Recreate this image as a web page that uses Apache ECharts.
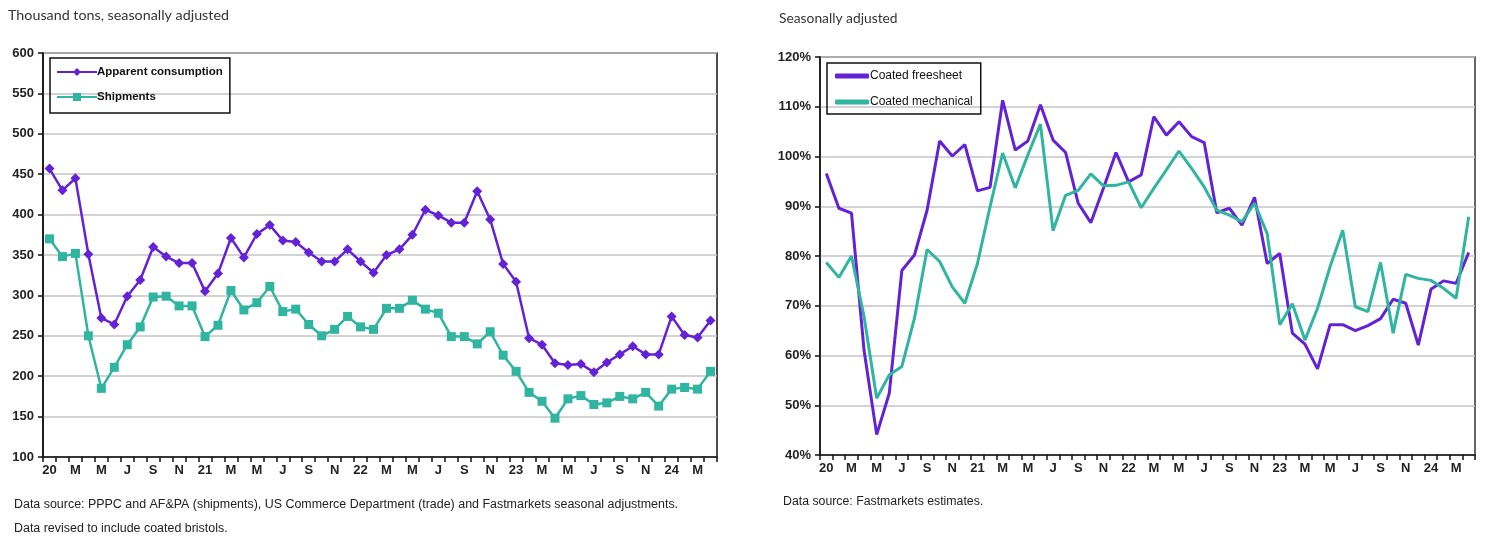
<!DOCTYPE html>
<html>
<head>
<meta charset="utf-8">
<script src="https://cdn.jsdelivr.net/npm/echarts@6/dist/echarts.min.js"></script>
<style>
html,body{margin:0;padding:0;background:#fff;}
#c{width:1491px;height:544px;}
</style>
</head>
<body>
<div id="c"></div>
<script>
// Monthly categories Jan 2020 – Apr 2024
const months = ["20","F","M","A","M","J","J","A","S","O","N","D",
  "21","F","M","A","M","J","J","A","S","O","N","D",
  "22","F","M","A","M","J","J","A","S","O","N","D",
  "23","F","M","A","M","J","J","A","S","O","N","D",
  "24","F","M","A"];

// Left chart: thousand tons
const apparentConsumption = [457,430,445,351,272,264,299,319,360,348,340,340,
  305,327,371,347,376,387,368,366,353,342,342,357,
  342,328,350,357,375,406,399,390,390,429,394,339,
  317,247,239,216,214,215,205,217,227,237,227,227,
  274,251,248,269];
const shipments = [370,348,352,250,185,211,239,261,298,299,287,287,
  249,263,306,282,291,311,280,283,264,250,258,274,
  261,258,284,284,294,283,278,249,249,240,255,226,
  206,180,169,148,172,176,165,167,175,172,180,163,
  184,186,184,206];

// Right chart: percent
const coatedFreesheet = [96.6,89.6,88.6,61,44.1,52.4,77.1,80.2,89.2,103.1,100.1,102.4,
  93.1,93.8,111.3,101.3,103.1,110.4,103.3,100.8,90.6,86.7,93.6,100.8,
  94.9,96.3,108,104.3,107,104,102.8,88.7,89.6,86.2,91.8,78.5,
  80.5,64.5,62.3,57.3,66.2,66.2,65,66,67.4,71.3,70.5,62.1,
  73.3,75,74.5,80.7];
const coatedMechanical = [78.7,75.7,80,67.8,51.4,56.1,57.8,67.5,81.3,78.9,73.8,70.5,
  78.5,89.9,100.7,93.7,100.3,106.5,85.1,92.2,93.2,96.5,94.1,94.2,
  94.9,89.7,93.6,97.3,101.1,97.6,93.9,89.2,88.2,86.9,90.6,84.5,
  66.2,70.4,63.1,69.5,77.9,85.2,69.8,68.8,78.7,64.5,76.3,75.5,
  75.1,73.5,71.5,87.9];

const purple = '#6422d6';
const teal = '#2fb5a0';
const labelFont = "'Liberation Sans',Arial,sans-serif";

const chart = echarts.init(document.getElementById('c'), null, {renderer:'canvas'});

function xAxisCfg(gridIndex){
  return {
    type:'category', gridIndex, data: months, boundaryGap:true,
    axisLine:{show:true, lineStyle:{color:'#111', width:1.5}},
    axisTick:{show:true, interval:0, alignWithLabel:false, length:5, lineStyle:{color:'#111', width:1.5}},
    axisLabel:{interval:1, color:'#222', fontFamily:labelFont, fontWeight:'bold', fontSize:13, margin:7},
    splitLine:{show:false}
  };
}

const noteStyle = {fontFamily:labelFont, fontWeight:'normal', fontSize:12.45, color:'#222'};
const subStyle = {fontFamily:'Lato, sans-serif', fontWeight:'normal', fontSize:14.3, color:'#333'};

chart.setOption({
  animation:false,
  title:[
    {text:'Thousand tons, seasonally adjusted', left:8, top:8, padding:0, textStyle:subStyle},
    {text:'Seasonally adjusted', left:779, top:12, padding:0, textStyle:Object.assign({}, subStyle, {fontSize:13.8})},
    {text:'Data source: PPPC and AF&PA (shipments), US Commerce Department (trade) and Fastmarkets seasonal adjustments.', left:14, top:499, padding:0, textStyle:noteStyle},
    {text:'Data revised to include coated bristols.', left:14, top:523, padding:0, textStyle:noteStyle},
    {text:'Data source: Fastmarkets estimates.', left:783, top:496, padding:0, textStyle:Object.assign({}, noteStyle, {fontSize:12.3})}
  ],
  legend:[
    {data:['Apparent consumption','Shipments'], orient:'vertical', left:50, top:58,
      borderColor:'#111', borderWidth:1.5, padding:[8,7,10,6], itemGap:13,
      itemWidth:40, itemHeight:10,
      textStyle:{fontFamily:labelFont, fontWeight:'bold', fontSize:11.5, color:'#111', padding:[0,0,0,-5]}},
    {data:['Coated freesheet','Coated mechanical'], orient:'vertical', left:827, top:63,
      borderColor:'#111', borderWidth:1.5, padding:[7,8,6,8], itemGap:14,
      itemWidth:34, itemHeight:5, icon:'roundRect',
      textStyle:{fontFamily:labelFont, fontWeight:'normal', fontSize:12, color:'#111', padding:[0,0,0,-4]}}
  ],
  grid:[
    {left:43, top:53, width:674, height:404, show:true, borderColor:'#111', borderWidth:1.5, containLabel:false},
    {left:820, top:57, width:655, height:398, show:true, borderColor:'#333', borderWidth:1.5, containLabel:false}
  ],
  xAxis:[xAxisCfg(0), xAxisCfg(1)],
  yAxis:[
    {type:'value', gridIndex:0, min:100, max:600, interval:50,
      axisLine:{show:true, lineStyle:{color:'#111', width:1.5}},
      axisTick:{show:true, length:5, lineStyle:{color:'#111', width:1.5}},
      axisLabel:{color:'#222', fontFamily:labelFont, fontWeight:'bold', fontSize:13, margin:9},
      splitLine:{show:true, lineStyle:{color:'#c4c4c4', width:1.5}}},
    {type:'value', gridIndex:1, min:40, max:120, interval:10,
      axisLine:{show:true, lineStyle:{color:'#111', width:1.5}},
      axisTick:{show:true, length:5, lineStyle:{color:'#111', width:1.5}},
      axisLabel:{color:'#222', fontFamily:labelFont, fontWeight:'bold', fontSize:13, margin:9, formatter:'{value}%'},
      splitLine:{show:true, lineStyle:{color:'#c4c4c4', width:1.5}}}
  ],
  series:[
    {name:'Apparent consumption', type:'line', xAxisIndex:0, yAxisIndex:0, data:apparentConsumption,
      symbol:'diamond', symbolSize:10, showSymbol:true, showAllSymbol:true,
      lineStyle:{color:purple, width:2.5}, itemStyle:{color:purple}},
    {name:'Shipments', type:'line', xAxisIndex:0, yAxisIndex:0, data:shipments,
      symbol:'rect', symbolSize:9, showSymbol:true, showAllSymbol:true,
      lineStyle:{color:teal, width:2.5}, itemStyle:{color:teal}},
    {name:'Coated freesheet', type:'line', xAxisIndex:1, yAxisIndex:1, data:coatedFreesheet,
      symbol:'none', lineStyle:{color:purple, width:3}, itemStyle:{color:purple}},
    {name:'Coated mechanical', type:'line', xAxisIndex:1, yAxisIndex:1, data:coatedMechanical,
      symbol:'none', lineStyle:{color:teal, width:3}, itemStyle:{color:teal}}
  ]
});
</script>
</body>
</html>
